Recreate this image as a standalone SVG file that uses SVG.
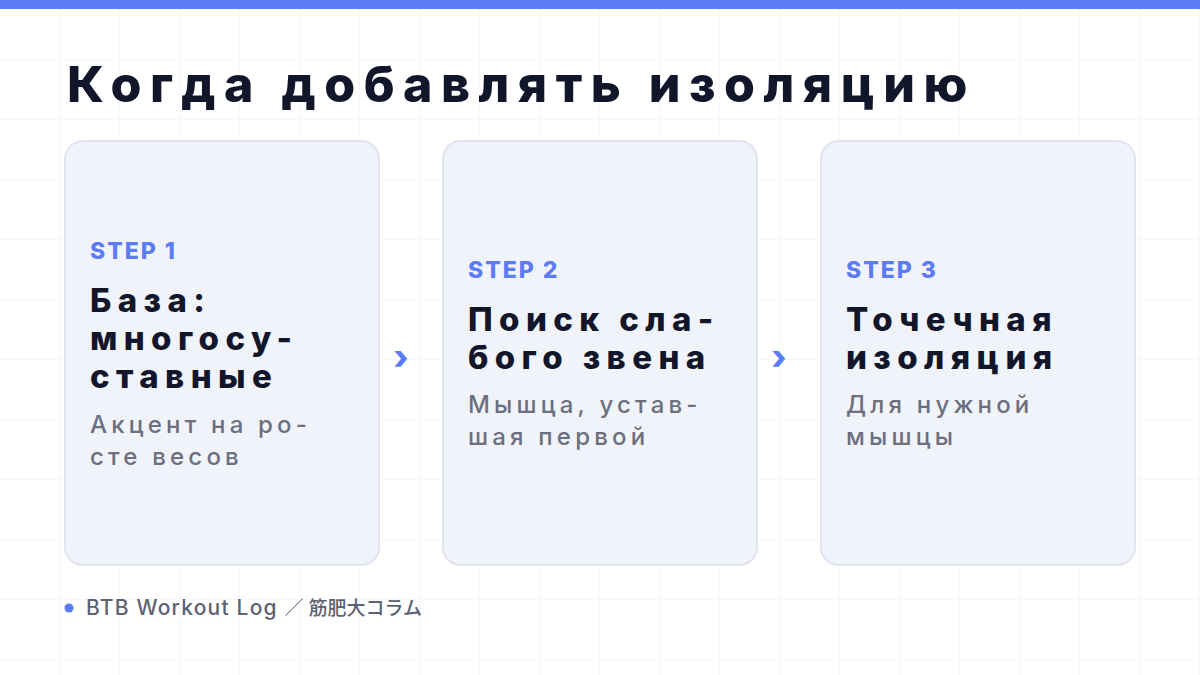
<svg xmlns="http://www.w3.org/2000/svg" width="1200" height="675" viewBox="0 0 1200 675">
<defs>
<pattern id="grid" width="60" height="60" patternUnits="userSpaceOnUse">
<path d="M60 0V60M0 60H60" fill="none" stroke="#eff1f6" stroke-width="1"/>
</pattern>
</defs>
<style>
.card{fill:#f1f3fb;stroke:#e1e4f0;stroke-width:2}
.step{font-family:Inter,"Liberation Sans",sans-serif;font-weight:800;font-size:23px;fill:#5b7cf5;letter-spacing:2px}
.head{font-family:Inter,"Liberation Sans",sans-serif;font-weight:800;font-size:33px;fill:#11162a;letter-spacing:6.4px}
.desc{font-family:Inter,"Liberation Sans",sans-serif;font-weight:500;font-size:24px;fill:#6b6f7e;letter-spacing:4.2px}
.arrow{font-family:Inter,"Liberation Sans",sans-serif;font-weight:800;font-size:34px;fill:#5b7cf5}
</style>
<rect width="1200" height="675" fill="#ffffff"/>
<rect width="1200" height="675" fill="url(#grid)"/>
<rect width="1200" height="9" fill="#5b7cf5"/>
<text x="67" y="102" font-family="Inter,'Liberation Sans',sans-serif" font-weight="800" font-size="50" fill="#11162a" letter-spacing="8.5">Когда добавлять изоляцию</text>
<g id="connectors">
<text class="arrow" x="401" y="369" text-anchor="middle">›</text>
<text class="arrow" x="779" y="369" text-anchor="middle">›</text>
</g>
<g id="step1">
<rect class="card" x="65" y="141" width="314" height="424" rx="18"/>
<text class="step" x="90" y="259">STEP 1</text>
<text class="head" x="90" y="312">База:</text>
<text class="head" x="90" y="350">многосу-</text>
<text class="head" x="90" y="388">ставные</text>
<text class="desc" x="90" y="433">Акцент на ро-</text>
<text class="desc" x="90" y="465">сте весов</text>
</g>
<g id="step2">
<rect class="card" x="443" y="141" width="314" height="424" rx="18"/>
<text class="step" x="468" y="278">STEP 2</text>
<text class="head" x="468" y="331">Поиск сла-</text>
<text class="head" x="468" y="369">бого звена</text>
<text class="desc" x="468" y="413">Мышца, устав-</text>
<text class="desc" x="468" y="445">шая первой</text>
</g>
<g id="step3">
<rect class="card" x="821" y="141" width="314" height="424" rx="18"/>
<text class="step" x="846" y="278">STEP 3</text>
<text class="head" x="846" y="331">Точечная</text>
<text class="head" x="846" y="369">изоляция</text>
<text class="desc" x="846" y="413">Для нужной</text>
<text class="desc" x="846" y="445">мышцы</text>
</g>
<g id="footer">
<circle cx="69" cy="608" r="4.5" fill="#5b7cf5"/>
<text x="86" y="615" font-family="Inter,'Noto Sans CJK JP',sans-serif" font-weight="500" font-size="21" fill="#5d6272" letter-spacing="1.2">BTB Workout Log <tspan font-size="19" letter-spacing="0">／ 筋肥大コラム</tspan></text>
</g>
</svg>
